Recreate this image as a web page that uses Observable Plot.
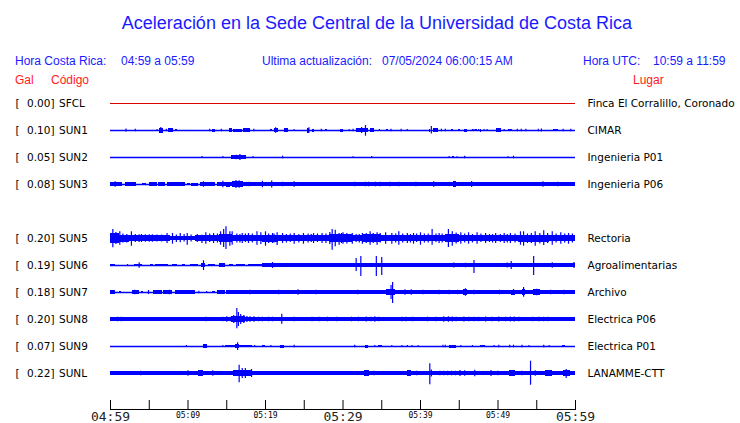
<!DOCTYPE html>
<html><head><meta charset="utf-8">
<script src="https://cdn.jsdelivr.net/npm/d3@7"></script>
<script src="https://cdn.jsdelivr.net/npm/@observablehq/plot@0.6"></script>
<style>
body{margin:0;background:#fff;}
#wrap{position:relative;width:740px;height:423px;overflow:hidden;background:#fff;font-family:"Liberation Sans",Arial,sans-serif;}
.h{position:absolute;white-space:pre;line-height:1;font-size:12px;color:#1a1aff;}
.r{color:#ff1a1a;}
#title{position:absolute;left:0;width:754px;text-align:center;top:14px;font-size:18px;line-height:1;color:#1a1aff;}
#chart{position:absolute;left:0;top:90px;}
</style>
</head><body>
<div id="wrap">
  <div id="title"></div>
  <div class="h" id="hcr" style="left:15px;top:55px"></div>
  <div class="h" id="hcrv" style="left:121px;top:55px"></div>
  <div class="h" id="hupd" style="left:262px;top:55px"></div>
  <div class="h" id="hupdv" style="left:382px;top:55px"></div>
  <div class="h" id="hutc" style="left:583px;top:55px"></div>
  <div class="h" id="hutcv" style="left:653px;top:55px"></div>
  <div class="h r" id="hgal" style="left:15px;top:74px"></div>
  <div class="h r" id="hcod" style="left:51px;top:74px"></div>
  <div class="h r" id="hlug" style="left:633px;top:74px"></div>
  <div id="chart"></div>
</div>
<script>
// ---------- texts ----------
const titleText = "Aceleración en la Sede Central de la Universidad de Costa Rica";
const headerLabels = ["Hora Costa Rica:", "Ultima actualización:", "Hora UTC:"];
const headerValues = ["04:59 a 05:59", "07/05/2024 06:00:15 AM", "10:59 a 11:59"];
const columnLabels = ["Gal", "Código", "Lugar"];

// ---------- stations ----------
const rowOrder = ["SFCL","SUN1","SUN2","SUN3","SUN4","SUN5","SUN6","SUN7","SUN8","SUN9","SUNL"];
const codes  = ["SFCL","SUN1","SUN2","SUN3","SUN5","SUN6","SUN7","SUN8","SUN9","SUNL"];
const peakGal = [0.00, 0.10, 0.05, 0.08, 0.20, 0.19, 0.18, 0.20, 0.07, 0.22];
const places = ["Finca El Corralillo, Coronado","CIMAR","Ingenieria P01","Ingenieria P06","Rectoria",
                "Agroalimentarias","Archivo","Electrica P06","Electrica P01","LANAMME-CTT"];
const traceColors = ["#e00000","#0000ff","#0000ff","#0000ff","#0000ff","#0000ff","#0000ff","#0000ff","#0000ff","#0000ff"];

// ---------- time axis ----------
const tickTimes = ["04:59","05:04","05:09","05:14","05:19","05:24","05:29","05:34","05:39","05:44","05:49","05:54","05:59"];
const majorLabels = ["04:59","05:29","05:59"];
const minorLabels = ["05:09","05:19","05:39","05:49"];

// ---------- waveform envelopes (minutes after 04:59, half amplitude) ----------
// bands: [start, end, amplitude]; spikes: [time, up, down]
const sfclBands = [];
const sfclSpikes = [];

const sun1Bands = [[6.3,6.8,2.5],[7.5,8.1,1.7],[8.4,8.6,1.3],[13.1,13.5,1.5],[15.3,15.7,1.7],[15.9,17.0,1.5],[17.2,18.1,1.7],
  [20.6,20.9,1.3],[21.1,21.7,2],[22.5,23.0,1.7],[25.4,25.7,2.5],[26.0,26.3,1.5],[27.7,28.0,1.3],[29.7,30.1,1.5],
  [31.7,33.3,2.2],[33.6,34.0,1.7],[35.6,35.9,1],[40.6,40.7,1],[41.1,41.3,1.5],[41.7,42.3,1.7],[44.0,44.3,1.3],
  [44.9,45.2,1.3],[45.7,46.0,1.5],[47.1,47.3,1.3],[47.7,47.9,1.5],[49.8,50.4,1.7],[51.4,51.9,1.3],[57.2,57.8,1]];
const sun1Spikes = [[2.0,1.5],[3.2,1.3],[6.0,1],[6.5,3],[7.2,1.3],[12.8,1.3],[14.3,1.3],[18.5,1.3],[21.3,2.7],[23.7,1],
  [25.6,2.8],[27.2,1.3],[30.8,1],[31.3,1.3],[32.4,3],[32.9,5,5.7],[34.7,1],[36.2,1.3],[37.5,1.3],[38.3,1],[41.4,4,3.5],
  [42.7,1.3],[43.2,1.3],[46.7,1],[46.9,1],[47.5,1],[48.2,1],[48.6,1],[50.8,1],[52.5,1.3],[53.0,1.3],[53.6,1.3],
  [55.2,1.3],[55.6,1.5],[58.4,1.3],[59.4,1.3]];

const sun2Bands = [[15.6,17.5,2],[44.1,44.4,1.3]];
const sun2Spikes = [[11.8,1],[14.5,1],[16.2,2.3],[16.7,3],[18.4,1],[22.2,1.3],[31.3,0.8],[33.7,1],[43.7,1],[44.7,0.8],
  [45.7,1.3],[51.3,0.8],[52.0,1.3]];

const sun3Bands = [[0,1.5,2],[1.9,3.3,1.7],[4.1,4.7,1.3],[5.0,6.0,1.7],[6.2,7.1,1.7],[7.3,9.7,1.7],[9.9,10.3,1.3],
  [10.5,11.4,1.5],[11.6,13.5,1.7],[13.8,60,1.8],[15.0,15.5,2.5],[15.7,17.2,3],[44.3,44.7,2.7],[44.9,45.6,2.3]];
const sun3Spikes = [[0.6,2.7],[12.0,2.7],[14.5,3.3],[16.2,4],[16.6,3.7],[17.9,2.3],[19.6,3.3],[20.8,3.5],[22.2,2.3],
  [23.7,2.7],[31.5,2.3],[32.9,2.3],[33.3,2.3],[34.2,2.3],[34.8,2.3],[36.1,2.3],[37.2,2.3],[39.4,2.3],[41.7,2.7],
  [46.6,3],[50.1,2],[55.8,2.7],[57.7,2.3]];

const sun5Bands = [[0,1.2,4.8],[1.2,2.4,3.5],[2.4,5.6,3.2],[5.6,7.7,2.6],[7.7,11,2.3],[11,14,2.9],[14,15.7,3.8],
  [15.7,19.6,3.2],[19.6,21.7,3.5],[21.7,28.2,3.2],[28.2,31.2,4.2],[31.2,32.7,2.9],[32.7,35,3.8],[35,43.2,3.2],
  [43.2,45,4.2],[45,52.7,3],[52.7,56.6,3.5],[56.6,60,3.2]];
const sun5Spikes = [[0.3,9,9.3],[0.7,6,6],[1.2,6.7,6.7],[1.6,4.5,4.5],[2.1,4,4.5],[2.7,6.7,7.7],[3.2,4,4],[3.7,3.7,4],
  [4.0,4,4],[4.5,3.7,3.7],[5.0,3.7,3.7],[5.4,3.7,3.7],[6.0,3.5,3.5],[6.6,3.5,3.5],[7.3,5,5],[8.0,5,5.7],[8.5,3.5,4],
  [9.0,5,4.3],[9.5,4,3.5],[9.9,5,6.7],[10.4,3.5,3.5],[11.2,4,4],[11.8,3.3,5],[12.3,5.7,5.7],[12.8,4.5,4],[13.3,5,5],
  [13.8,4.5,4.5],[14.2,6.7,6.7],[14.6,9,9],[14.9,11.7,11],[15.4,6.7,7.7],[15.7,6.7,6.7],[16.3,4.5,4.5],[16.7,4,4.5],
  [17.0,5,5],[17.4,4.5,4],[17.8,5,5],[18.3,4.5,4.5],[18.9,6.7,6.7],[19.4,5.7,6],[20.0,6.7,7.7],[20.4,4.5,5],
  [20.9,5,5],[21.1,4.5,4.5],[21.5,5.7,7],[22.2,5,5],[22.7,4,4.5],[23.2,4.5,4],[23.7,5,5.7],[24.3,4,4.5],[24.9,5,5.7],
  [25.5,4.5,4.5],[25.9,4,4],[26.2,5,5],[26.7,4.5,4],[27.3,5,5],[27.8,4.5,5],[28.3,6,6],[28.6,9,11.7],[29.0,8.3,8.3],
  [29.5,5,6.7],[29.8,5,5],[30.0,5.7,5.7],[30.5,5,5.5],[31.2,5,5.7],[31.7,4,4],[32.1,4,4.5],[32.5,5,5.7],[33.0,5,5],
  [33.5,6.7,6.7],[33.9,5,5],[34.4,5.7,6.7],[34.8,5,4.5],[35.5,5.7,5.7],[36.3,5,5.7],[36.8,4.5,4.5],[37.2,6.7,6.7],
  [37.7,4.5,4.5],[38.3,5,5],[38.7,4,4.5],[39.1,5,5.7],[39.5,4.5,4],[40.0,5.7,6.7],[40.5,4.5,4.5],[41.0,4.5,4.5],
  [41.5,9,6.7],[42.0,4.5,4],[42.4,5,5],[42.8,4.5,4.5],[43.6,9,9],[44.1,6.7,7.7],[44.6,5.5,5.5],[45.2,5.7,5.7],
  [45.7,4.5,4.5],[46.2,5.7,5.7],[46.7,4,4.5],[47.3,5.7,5.7],[47.8,4.5,4],[48.4,5,5],[48.9,4,4],[49.3,4,4.5],
  [49.7,5,5],[50.3,4,4],[50.8,5,5],[51.2,4,4.5],[51.6,5,5],[52.2,4.5,4.5],[52.9,6.7,6.7],[53.3,6.7,7.7],[53.8,4.5,5],
  [54.3,5,5],[54.8,6.7,7.7],[55.4,5,5.5],[55.9,7.7,7],[56.4,5,5],[57.0,6.7,6.7],[57.5,4.5,4.5],[58.1,5.7,5.7],
  [58.6,4.5,4.5],[59.1,5,5.7],[59.6,4.5,4.5]];

const sun6Bands = [[0,0.6,1.3],[3.1,4.1,1.3],[5.1,5.6,1.3],[5.8,7.5,1.3],[8.0,8.6,1.3],[9.3,9.7,1.3],[10.3,11.4,1.3],
  [11.8,12.3,2],[12.7,13.5,1.3],[14.0,14.8,1.7],[15.3,15.9,1.3],[16.3,17.4,1.3],[17.8,19.6,1.3],[19.6,21.3,1.7],
  [21.3,60,1.7]];
const sun6Spikes = [[2.2,1],[3.7,2.7],[12.0,4.7,5],[20.9,3],[31.7,7,6],[32.3,9,11],[34.3,9,11],[35.0,8,10],[44.3,2.5],
  [45.8,2.3],[46.9,5,8],[51.2,2.5],[51.7,4],[54.6,9,10],[57.0,2.7],[59.8,3]];

const sun7Bands = [[0,0.6,1.7],[1.2,1.4,1.3],[2.8,3.7,1.7],[4.0,4.3,1.3],[5.6,6.7,1.7],[6.9,8.0,1.7],[8.4,11.0,1.7],
  [13.1,13.5,1.3],[13.8,14.8,1.7],[15.0,60,1.7],[35.6,36.8,3],[45.6,46.0,3],[51.8,52.2,2.5],[53.1,53.5,3.3],
  [54.6,55.5,2.7]];
const sun7Spikes = [[3.1,2.3],[4.9,2],[7.6,2.3],[11.4,1.3],[12.4,1],[18.0,2.3],[21.7,2.3],[24.2,2.7],[26.5,2.3],
  [28.4,2],[31.9,2.3],[36.2,7,7],[36.4,10,11],[38.0,2.7],[38.8,2.7],[40.3,2.3],[42.4,2.3],[43.7,2.3],[44.8,2.3],
  [45.8,3.7],[46.9,2.3],[50.2,2.3],[52.0,3],[53.3,5,4.7],[55.0,3.3],[56.8,2.3],[58.5,2.3]];

const sun8Bands = [[0,60,1.8],[15.6,17.4,3]];
const sun8Spikes = [[0.9,2.3],[1.4,2.3],[2.4,2],[12.3,2.3],[14.5,2.3],[15.0,2.7],[15.6,3],[15.9,4],[16.3,11,9.3],
  [16.5,7,7],[16.8,5],[17.2,4],[17.6,3],[18.0,2.7],[18.5,2.7],[19.1,2.3],[19.6,2.3],[20.4,2.3],[20.9,2.3],
  [22.1,5.3,4.7],[23.7,2.3],[26.0,2.3],[26.9,2.3],[28.0,2.3],[29.2,2.3],[31.1,2.3],[32.0,2.3],[33.0,2.5],[33.6,2.3],
  [34.1,2.7],[34.6,2.3],[37.6,2.3],[38.1,2.3],[39.0,2.3],[40.9,2.3],[42.0,2.3],[43.0,2.8],[43.6,2.8],[44.1,2.5],
  [44.6,2.3],[45.6,2.5],[46.2,2.3],[46.9,2.3],[47.5,2.3],[48.4,2.5],[49.2,2.3],[50.1,2.5],[51.0,2.3],[51.6,2.5],
  [52.1,2.5],[52.7,2.3],[54.5,2.3],[55.3,2.3],[55.9,2.3],[56.4,2.3],[58.1,2],[59.4,2]];

const sun9Bands = [[12,12.5,1.7],[14.8,16.1,1.3],[16.1,16.6,2.3],[16.6,18.3,1.3],[19.6,20,1.3],[21.9,22.4,1.5],
  [32.9,33.3,1.5],[34.6,35.1,1],[43.7,44.7,1.5],[47.7,48.4,1.3],[58.3,58.7,1.3]];
const sun9Spikes = [[9.8,1],[14.5,1],[16.4,3.7,4],[18.6,1],[20.7,1],[23.7,1.3],[31.5,1.3],[34.1,1],[36.3,1],[37.6,1],
  [38.3,1],[38.9,1],[39.7,1],[42.9,1.3],[43.2,1.3],[45.2,1],[46.7,1],[49.5,1],[50.1,1.3],[51.5,1.3],[52.0,1.3],
  [53.1,1.3],[54.0,1],[55.9,1.3],[56.6,1]];

const sunlBands = [[0,60,1.7],[11.4,12,2.7],[15.9,18.3,3],[32.8,33.4,2.7],[38.3,38.9,2.7],[51.5,52.3,2.7],
  [56.1,57,2.7],[58.5,59.4,3]];
const sunlSpikes = [[3.9,2.3],[7.2,2],[10.0,2.7],[13.2,2.7],[16.6,8.3,9.3],[17.0,5],[17.4,5],[18.2,4],[22.2,2],
  [23.7,2],[24.7,2],[29.0,2],[30.7,2],[31.3,2],[34.0,2.3],[37.1,2],[39.5,2.3],[41.2,9.7,11.3],[41.4,3.5],[42.5,2.3],
  [43.0,2.3],[43.5,2.3],[44.0,2.3],[44.5,2.3],[45.1,3],[45.7,2.7],[47.0,3.3],[48.0,2],[49.1,3],[50.0,2.3],[53.1,2.3],
  [54.2,12.3,11.7],[54.8,2.7],[58.8,4,5]];

const allBands = [sfclBands,sun1Bands,sun2Bands,sun3Bands,sun5Bands,sun6Bands,sun7Bands,sun8Bands,sun9Bands,sunlBands];
const allSpikes = [sfclSpikes,sun1Spikes,sun2Spikes,sun3Spikes,sun5Spikes,sun6Spikes,sun7Spikes,sun8Spikes,sun9Spikes,sunlSpikes];

// ---------- header text ----------
document.getElementById("title").textContent = titleText;
document.getElementById("hcr").textContent = headerLabels[0];
document.getElementById("hcrv").textContent = headerValues[0];
document.getElementById("hupd").textContent = headerLabels[1];
document.getElementById("hupdv").textContent = headerValues[1];
document.getElementById("hutc").textContent = headerLabels[2];
document.getElementById("hutcv").textContent = headerValues[2];
document.getElementById("hgal").textContent = columnLabels[0];
document.getElementById("hcod").textContent = columnLabels[1];
document.getElementById("hlug").textContent = columnLabels[2];

// ---------- build tables ----------
const parse = d3.utcParse("%H:%M");
const start = parse(tickTimes[0]);
const T = m => new Date(+start + m * 60000);
const ROW = 27; // amplitude units per trace row
const base = code => rowOrder.indexOf(code) * ROW;

const stations = codes.map((c, i) => ({code: c, gal: peakGal[i], place: places[i], color: traceColors[i], y: base(c)}));
const bandRows = [], spikeRows = [];
codes.forEach((c, i) => {
  const b = base(c);
  for (const [a, e, amp] of allBands[i]) bandRows.push({x1: T(a), x2: T(e), y1: b - amp, y2: b + amp});
  for (const s of allSpikes[i]) {
    const up = s[1], down = s.length > 2 ? s[2] : s[1];
    spikeRows.push({x: T(s[0]), y1: b - up, y2: b + down});
  }
});
const ticks = tickTimes.map(parse);
const fmt = d3.utcFormat("%H:%M");

const chart = Plot.plot({
  width: 740, height: 333,
  marginLeft: 110, marginRight: 165, marginTop: 0, marginBottom: 14,
  x: {type: "utc", domain: [T(0), T(60)], axis: null},
  y: {domain: [0, 270], range: [13, 283], axis: null},
  style: {background: "white", overflow: "visible"},
  marks: [
    Plot.ruleY(stations, {y: "y", stroke: "color", strokeWidth: d => d.code === "SFCL" ? 1 : 1.4}),
    Plot.rect(bandRows, {x1: "x1", x2: "x2", y1: "y1", y2: "y2", fill: "#0000ff", shapeRendering: "crispEdges"}),
    Plot.ruleX(spikeRows, {x: "x", y1: "y1", y2: "y2", stroke: "#0000ff", strokeWidth: 1.2}),
    // left labels
    Plot.text(stations, {frameAnchor: "left", y: "y", text: () => "[", dx: -95, textAnchor: "start",
      fontSize: 10.5, fontFamily: "DejaVu Sans", fill: "black"}),
    Plot.text(stations, {frameAnchor: "left", y: "y", text: d => d.gal.toFixed(2) + "]", dx: -56, textAnchor: "end",
      fontSize: 10.5, fontFamily: "DejaVu Sans", fill: "black"}),
    Plot.text(stations, {frameAnchor: "left", y: "y", text: "code", dx: -51.5, textAnchor: "start",
      fontSize: 10.5, fontFamily: "DejaVu Sans", fill: "black"}),
    // right labels
    Plot.text(stations, {frameAnchor: "right", y: "y", text: "place", dx: 12, textAnchor: "start",
      fontSize: 10.5, fontFamily: "DejaVu Sans", fill: "black"}),
    // time axis
    Plot.frame({anchor: "bottom", stroke: "black"}),
    Plot.ruleX(ticks, {x: d => d, insetTop: 310, stroke: "black"}),
    Plot.axisX(majorLabels.map(parse), {tickSize: 0, tickPadding: 2, fontSize: 13, fontFamily: "DejaVu Sans Mono",
      tickFormat: fmt, label: null, fill: "#222"}),
    Plot.axisX(minorLabels.map(parse), {tickSize: 0, tickPadding: 3, fontSize: 8, fontFamily: "DejaVu Sans Mono",
      tickFormat: fmt, label: null, fill: "black"})
  ]
});
document.getElementById("chart").appendChild(chart);
</script>
</body></html>
